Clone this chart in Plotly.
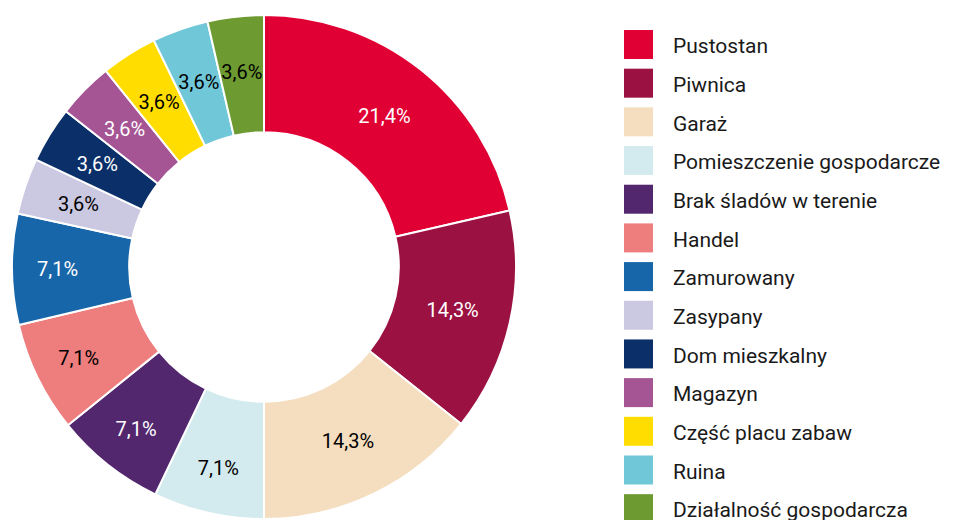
import plotly.graph_objects as go

categories = ["Pustostan", "Piwnica", "Garaż", "Pomieszczenie gospodarcze",
              "Brak śladów w terenie", "Handel", "Zamurowany", "Zasypany",
              "Dom mieszkalny", "Magazyn", "Część placu zabaw", "Ruina",
              "Działalność gospodarcza"]
shares = [21.4, 14.3, 14.3, 7.1, 7.1, 7.1, 7.1, 3.6, 3.6, 3.6, 3.6, 3.6, 3.6]
colors = ["#E00034", "#9B1242", "#F5DEC0", "#D3EBEE", "#52276E", "#EE7D7E",
          "#1866AA", "#CBC8E1", "#0A2F69", "#A55594", "#FFDD00", "#70C7D8",
          "#6E9B31"]
label_colors = ["white", "white", "black", "black", "white", "black",
                "white", "black", "white", "white", "black", "black", "black"]

W, H = 953, 520
FONT = "Roboto, Arial, sans-serif"
# page offset (browser body margin) compensation
OFF = 8

cx, cy, R = 264 - OFF, 267 - OFF, 252
R_small = 218  # radius used to place labels of the thinnest slices


def dom(radius):
    return dict(x=[(cx - radius) / W, (cx + radius) / W],
                y=[(H - cy - radius) / H, (H - cy + radius) / H])


tmpl = "%{value:.1f}%"
big_tmpl = [tmpl if v > 5 else "" for v in shares]
small_tmpl = ["" if v > 5 else tmpl for v in shares]

fig = go.Figure()

fig.add_trace(go.Pie(
    labels=categories, values=shares, sort=False, direction="clockwise",
    rotation=0, hole=0.535,
    marker=dict(colors=colors, line=dict(color="white", width=2)),
    texttemplate=big_tmpl, textposition="inside",
    insidetextorientation="horizontal",
    textfont=dict(family=FONT, size=20, color=label_colors),
    domain=dom(R), showlegend=False, hoverinfo="label+value",
))

# transparent overlay only used to place the labels of the thin slices
fig.add_trace(go.Pie(
    labels=categories, values=shares, sort=False, direction="clockwise",
    rotation=0, hole=0.6,
    marker=dict(colors=["rgba(0,0,0,0)"] * len(shares), line=dict(width=0)),
    texttemplate=small_tmpl, textposition="inside",
    insidetextorientation="horizontal",
    textfont=dict(family=FONT, size=20, color=label_colors),
    domain=dom(R_small), showlegend=False, hoverinfo="skip",
))

idx = list(range(len(categories)))
text_dy = 0.09  # small downward nudge of legend text relative to squares
fig.add_trace(go.Scatter(
    x=[638.5 - OFF] * len(categories), y=idx, mode="markers",
    marker=dict(symbol="square", size=29, color=colors, line=dict(width=0)),
    xaxis="x", yaxis="y", showlegend=False, hoverinfo="skip",
    cliponaxis=False,
))
fig.add_trace(go.Scatter(
    x=[673 - OFF] * len(categories), y=[i + text_dy for i in idx],
    mode="text", text=categories, textposition="middle right",
    textfont=dict(family=FONT, size=21, color="#1a1a1a"),
    xaxis="x", yaxis="y", showlegend=False, hoverinfo="skip",
    cliponaxis=False,
))

row = 38.68
first = 44.5 - OFF
fig.update_layout(
    width=W, height=H, margin=dict(l=0, r=0, t=0, b=0),
    paper_bgcolor="white", plot_bgcolor="rgba(0,0,0,0)",
    separators=",.", showlegend=False,
    uniformtext=dict(minsize=20, mode="show"),
    xaxis=dict(range=[0, W], domain=[0, 1], visible=False, fixedrange=True),
    yaxis=dict(range=[(H - first) / row, -first / row], domain=[0, 1],
               visible=False, fixedrange=True),
)

fig.write_html("out.html")
